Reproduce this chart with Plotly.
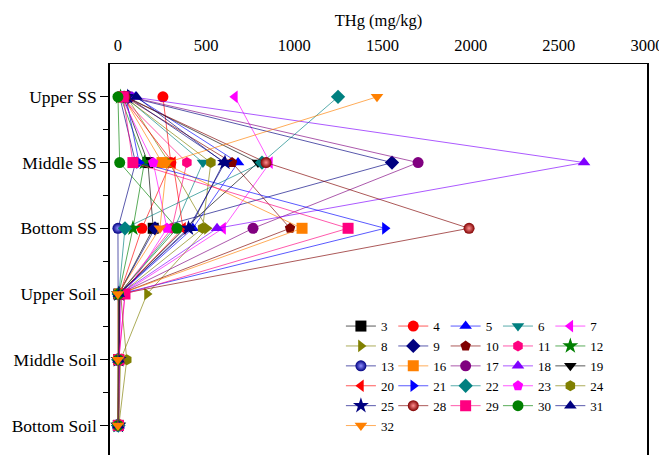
import plotly.graph_objects as go

depths = ["Upper SS", "Middle SS", "Bottom SS", "Upper Soil", "Middle Soil", "Bottom Soil"]

s3 = [30, 170, 200, 5, 3, 2]
s4 = [255, 300, 136, 10, 5, 3]
s5 = [100, 681, 425, 8, 5, 3]
s6 = [40, 482, 320, 6, 4, 2]
s7 = [663, 862, 596, 20, 5, 3]
s8 = [50, 290, 505, 165, 15, 5]
s9 = [60, 1554, 210, 5, 3, 2]
s10 = [40, 647, 976, 10, 5, 3]
s11 = [20, 391, 306, 8, 4, 2]
s12 = [15, 150, 85, 5, 3, 2]
s13 = [10, 100, 0, 3, 2, 1]
s16 = [30, 250, 1044, 10, 5, 3]
s17 = [70, 1702, 766, 10, 5, 3]
s18 = [80, 2643, 562, 12, 6, 3]
s19 = [50, 794, 380, 6, 4, 2]
s20 = [25, 312, 369, 8, 4, 2]
s21 = [45, 120, 1514, 10, 5, 3]
s22 = [1248, 817, 40, 5, 3, 2]
s23 = [20, 200, 278, 40, 5, 3]
s24 = [35, 527, 480, 15, 50, 5]
s25 = [55, 607, 400, 6, 4, 2]
s28 = [40, 840, 1991, 10, 5, 3]
s29 = [30, 85, 1305, 40, 5, 3]
s30 = [0, 10, 335, 4, 2, 1]
s31 = [105, 600, 408, 5, 3, 2]
s32 = [1469, 278, 238, 0, 0, 0]

series_names = ["3", "4", "5", "6", "7", "8", "9", "10", "11", "12", "13", "16", "17", "18",
                "19", "20", "21", "22", "23", "24", "25", "28", "29", "30", "31", "32"]
series_values = [s3, s4, s5, s6, s7, s8, s9, s10, s11, s12, s13, s16, s17, s18,
                 s19, s20, s21, s22, s23, s24, s25, s28, s29, s30, s31, s32]
x_ticks = [0, 500, 1000, 1500, 2000, 2500, 3000]

styles = {
    "3": ("#000000", "square", None),
    "4": ("#FF0000", "circle", None),
    "5": ("#0000FF", "triangle-up", None),
    "6": ("#008080", "triangle-down", None),
    "7": ("#FF00FF", "triangle-left", None),
    "8": ("#808000", "triangle-right", None),
    "9": ("#000080", "diamond", None),
    "10": ("#800000", "pentagon", None),
    "11": ("#FF0080", "hexagon", None),
    "12": ("#008000", "star", None),
    "13": ("#000080", "circle", "#9090ff"),
    "16": ("#FF8000", "square", None),
    "17": ("#800080", "circle", None),
    "18": ("#8000FF", "triangle-up", None),
    "19": ("#000000", "triangle-down", None),
    "20": ("#FF0000", "triangle-left", None),
    "21": ("#0000FF", "triangle-right", None),
    "22": ("#008080", "diamond", None),
    "23": ("#FF00FF", "pentagon", None),
    "24": ("#808000", "hexagon", None),
    "25": ("#000080", "star", None),
    "28": ("#800000", "circle", "#ff9090"),
    "29": ("#FF0080", "square", None),
    "30": ("#008000", "circle", None),
    "31": ("#000080", "triangle-up", None),
    "32": ("#FF8000", "triangle-down", None),
}


def rgba(hexc, a):
    h = hexc.lstrip("#")
    r, g, b = int(h[0:2], 16), int(h[2:4], 16), int(h[4:6], 16)
    return f"rgba({r},{g},{b},{a})"


FONT = "Liberation Serif"
N_COLS = 5
legend_ids = ["legend"] + [f"legend{i}" for i in range(2, N_COLS + 1)]

fig = go.Figure()
ypos = list(range(len(depths)))
for idx, (name, vals) in enumerate(zip(series_names, series_values)):
    col, sym, grad = styles[name]
    marker = dict(color=col, symbol=sym, size=12 if sym == "star" else 11, line=dict(width=0))
    if grad:
        marker["gradient"] = dict(type="radial", color=grad)
    fig.add_trace(go.Scatter(
        x=vals, y=ypos, mode="lines+markers", name=name,
        line=dict(color=rgba(col, 0.65), width=1),
        marker=marker,
        legend=legend_ids[idx % N_COLS],
        legendrank=idx,
    ))

legend_common = dict(
    orientation="v", yanchor="top", xanchor="left", y=0.368,
    font=dict(family=FONT, size=13), bgcolor="rgba(255,255,255,0)",
    tracegroupgap=0, borderwidth=0,
)
layout_legends = {}
for i, lid in enumerate(legend_ids):
    layout_legends[lid] = dict(legend_common, x=0.43 + i * 0.0975)

fig.update_layout(
    width=659, height=447,
    margin=dict(l=102, r=20, t=56, b=0),
    paper_bgcolor="white", plot_bgcolor="white",
    font=dict(family=FONT, size=17, color="black"),
    showlegend=True,
    xaxis=dict(
        side="top", range=[-45, 3000], tickvals=x_ticks,
        showline=True, linecolor="black", linewidth=1, mirror=False,
        ticks="", showgrid=False, zeroline=False, automargin=False,
        ticklabelstandoff=5,
        title=dict(text="THg (mg/kg)", font=dict(family=FONT, size=16.5), standoff=5),
        tickfont=dict(family=FONT, size=16.5),
    ),
    yaxis=dict(
        range=[5.45, -0.5], tickvals=ypos, ticktext=depths, automargin=False,
        showline=True, linecolor="black", linewidth=1.5, mirror=True,
        ticks="outside", ticklen=8, tickcolor="black", showgrid=False, zeroline=False,
        minor=dict(tickvals=[0.5, 1.5, 2.5, 3.5, 4.5], ticks="outside", ticklen=5, tickcolor="black"),
        tickfont=dict(family=FONT, size=17.5),
    ),
    **layout_legends,
)

fig.write_html("out.html")
